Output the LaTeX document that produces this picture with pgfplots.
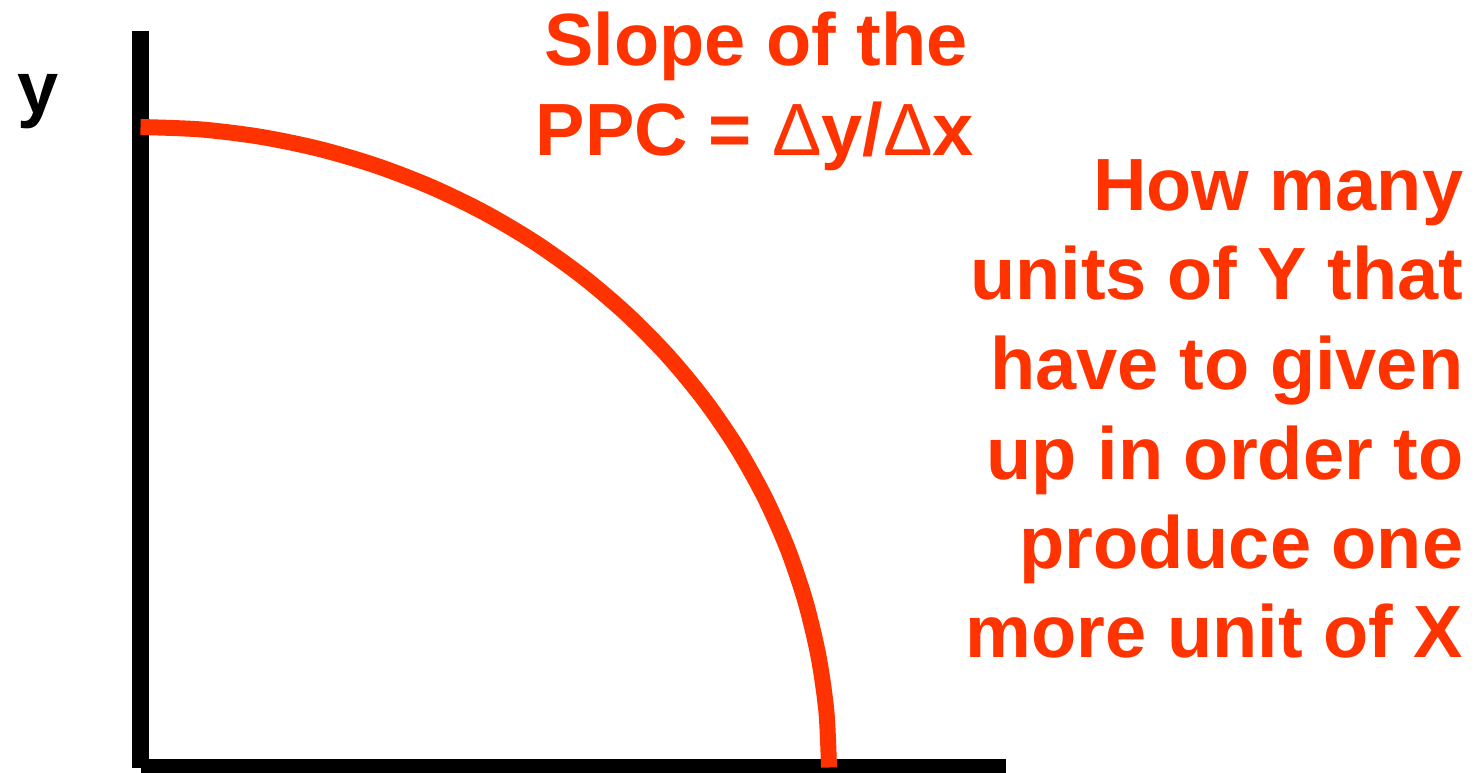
\documentclass[border=0pt]{standalone}
\usepackage{fontspec}
\setmainfont{Liberation Sans}
\usepackage{pgfplots}
\pgfplotsset{compat=1.18}
\definecolor{ppc}{HTML}{FF3300}
\newcommand{\Dl}{{\mdseries Δ}}
\begin{document}
\begin{tikzpicture}
\begin{axis}[
  scale only axis,
  width=444.3pt, height=231.6pt,
  xmin=-1.405, xmax=13.405,
  ymin=-0.045, ymax=7.675,
  hide axis,
  clip=false,
]
% axes
\addplot[black, line width=5.1pt, line cap=butt] coordinates {(0,7.365) (0,-0.005)};
\addplot[black, line width=5.1pt, line cap=butt] coordinates {(0.005,0) (8.652,0)};
% production possibility curve
\addplot[ppc, line width=4.8pt, smooth, line cap=butt] coordinates {
(0.000,6.405) (0.600,6.381) (1.195,6.308) (1.782,6.187) (2.355,6.019)
(2.910,5.805) (3.443,5.547) (3.949,5.247) (4.426,4.906) (4.868,4.529)
(5.274,4.117) (5.640,3.674) (5.963,3.203) (6.240,2.707) (6.470,2.191)
(6.650,1.658) (6.780,1.112) (6.859,0.558) (6.885,0.000)
};
\begin{scope}[every node/.style={inner sep=0pt, font=\fontsize{22.2}{26.8}\selectfont\bfseries}]
\node[anchor=base west, text=black] at (axis cs:-1.235,6.545) {y};
\node[anchor=base, text=ppc] at (axis cs:6.155,7.018) {Slope of the};
\node[anchor=base, text=ppc] at (axis cs:6.145,6.125) {PPC = \Dl y/\Dl x};
\node[anchor=base east, text=ppc] at (axis cs:13.235,5.575) {How many};
\node[anchor=base east, text=ppc] at (axis cs:13.235,4.682) {units of Y that};
\node[anchor=base east, text=ppc] at (axis cs:13.235,3.785) {have to given};
\node[anchor=base east, text=ppc] at (axis cs:13.235,2.885) {up in order to};
\node[anchor=base east, text=ppc] at (axis cs:13.235,1.995) {produce one};
\node[anchor=base east, text=ppc] at (axis cs:13.235,1.098) {more unit of X};
\end{scope}
\end{axis}
\pgfresetboundingbox
\path (current axis.south west) rectangle (current axis.north east);
\end{tikzpicture}
\end{document}
